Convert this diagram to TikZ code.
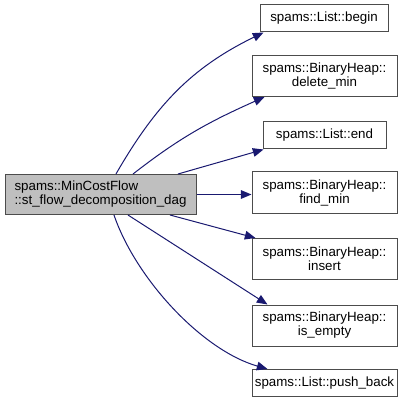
\documentclass[tikz,border=0pt]{standalone}
\usepackage{fontspec}
\setmainfont{Liberation Sans}
\usetikzlibrary{arrows.meta}
\definecolor{edgeblue}{HTML}{191970}

\begin{document}
\begin{tikzpicture}[x=0.75pt,y=-0.75pt,
    box/.style={draw=black!70,line width=0.75pt,inner sep=0pt,align=center,font=\fontsize{10}{10.5}\selectfont},
    fn/.style={box,fill=white,minimum width=108.75pt,minimum height=30.75pt},
    fnshort/.style={box,fill=white,minimum height=20.25pt},
    cur/.style={box,fill=black!25,align=left,minimum width=143.25pt,minimum height=30pt},
    call/.style={draw=edgeblue,line width=0.75pt,-{Triangle[length=8pt,width=6.5pt]}}]
    \useasboundingbox (0,0) rectangle (411,403);
    \node[cur] (flow) at (100.5,194.5) {spams::MinCostFlow\\::st\_flow\_decomposition\_dag};
    \node[fnshort,minimum width=96pt] (begin) at (324,18.5) {spams::List::begin};
    \node[fn] (deletemin) at (324.5,76) {spams::BinaryHeap::\\delete\_min};
    \node[fnshort,minimum width=92.25pt] (listend) at (324.5,135.5) {spams::List::end};
    \node[fn] (findmin) at (324.5,192.5) {spams::BinaryHeap::\\find\_min};
    \node[fn] (insert) at (324.5,259) {spams::BinaryHeap::\\insert};
    \node[fn] (isempty) at (324.5,325.5) {spams::BinaryHeap::\\is\_empty};
    \node[fnshort,minimum width=108.75pt] (pushback) at (324.5,383) {spams::List::push\_back};
    \draw[call] ([xshift=11.6pt]flow.north) to[out=60,in=206] ([xshift=3pt]begin.south west);
    \draw[call] ([xshift=24.4pt]flow.north) to[out=38,in=204] ([xshift=9.75pt]deletemin.south west);
    \draw[call] ([xshift=58.1pt]flow.north) -- ([xshift=0.75pt]listend.south west);
    \draw[call] (flow.east) -- (flow.east -| findmin.west);
    \draw[call] ([xshift=52.1pt]flow.south) -- ([xshift=3pt]insert.north west);
    \draw[call] ([xshift=20.6pt]flow.south) -- ([xshift=12pt]isempty.north west);
    \draw[call] ([xshift=10.1pt]flow.south) to[out=-71,in=164,looseness=0.8] ([xshift=12pt]pushback.north west);
\end{tikzpicture}
\end{document}
